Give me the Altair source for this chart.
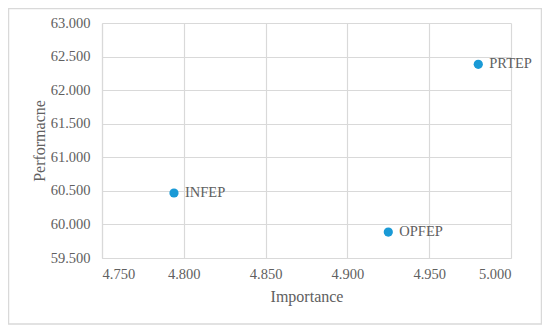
import altair as alt
import pandas as pd

names = ["INFEP", "OPFEP", "PRTEP"]
importance = [4.794, 4.925, 4.980]
performance = [60.468, 59.887, 62.385]

x_ticks = [4.75, 4.80, 4.85, 4.90, 4.95, 5.00]
y_ticks = [59.5, 60.0, 60.5, 61.0, 61.5, 62.0, 62.5, 63.0]

df = pd.DataFrame({"name": names, "Importance": importance, "Performacne": performance})

FONT = "Liberation Serif"
GRAY = "#606060"
GRID = "#d9d9d9"

x = alt.X("Importance:Q", scale=alt.Scale(domain=[4.75, 5.0], nice=False),
          axis=alt.Axis(values=x_ticks, format=".3f", title="Importance", grid=True,
                        ticks=False, labelPadding=9, titlePadding=8))
y = alt.Y("Performacne:Q", scale=alt.Scale(domain=[59.5, 63.0], nice=False, zero=False),
          axis=alt.Axis(values=y_ticks, format=".3f", title="Performacne", grid=True,
                        ticks=False, labelPadding=12, titlePadding=3))

border = alt.Chart(pd.DataFrame({"a": [0]})).mark_rect(
    fill=None, stroke=GRID, strokeWidth=1.5, clip=False
).encode(x=alt.value(-93.5), x2=alt.value(439.5), y=alt.value(-14.5), y2=alt.value(301))

points = alt.Chart(df).mark_circle(size=85, color="#1a9ad6", opacity=1).encode(x=x, y=y)
labels = alt.Chart(df).mark_text(align="left", baseline="middle", dx=11, fontSize=14.5,
                                 font=FONT, color=GRAY).encode(x=x, y=y, text="name:N")

chart = alt.layer(border, points, labels).properties(
    width=409, height=235,
    padding={"left": 94, "top": 15, "right": 31, "bottom": 67},
    autosize=alt.AutoSizeParams(type="none"),
).configure_axis(
    gridColor=GRID, gridWidth=1.2, domainColor=GRID, domainWidth=1.2,
    labelFont=FONT, labelFontSize=14.5, labelColor=GRAY,
    titleFont=FONT, titleFontSize=16, titleColor=GRAY, titleFontWeight="normal",
).configure_view(stroke=None)

chart.save("out.html", embed_options={"renderer": "svg", "actions": False})
